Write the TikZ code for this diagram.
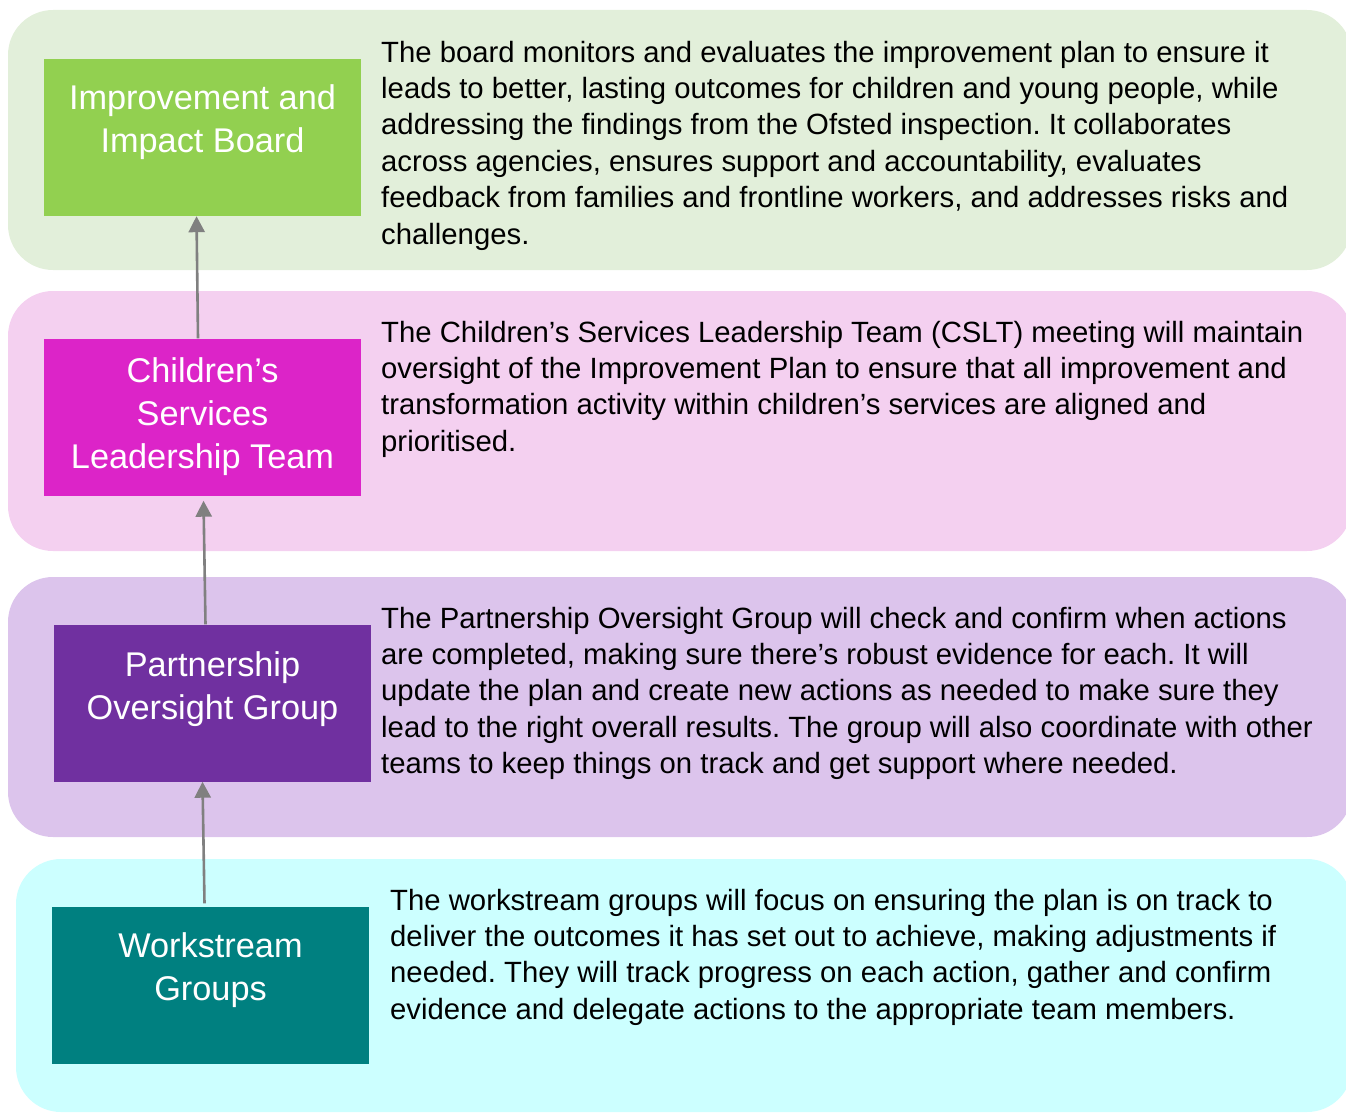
\documentclass[tikz,border=0pt]{standalone}
\usepackage{fontspec}
\setmainfont{Liberation Sans}
\usetikzlibrary{arrows.meta}
\frenchspacing

\definecolor{boardbg}{HTML}{E2EFDA}
\definecolor{boardfill}{HTML}{92D050}
\definecolor{teambg}{HTML}{F4D0F0}
\definecolor{teamfill}{HTML}{DC24C8}
\definecolor{groupbg}{HTML}{DCC4EC}
\definecolor{groupfill}{HTML}{7030A0}
\definecolor{streambg}{HTML}{CCFFFF}
\definecolor{streamfill}{HTML}{008080}

\begin{document}
\begin{tikzpicture}[x=1pt,y=-1pt,>={Triangle[length=16pt,width=16pt]},
		panel/.style={rounded corners=45pt},
		box/.style={minimum width=317pt,minimum height=157pt,inner sep=0pt},
		boxtext/.style={text=white,align=center,inner sep=0pt,anchor=base,font=\fontsize{34.3}{43}\selectfont},
		info/.style={align=left,inner sep=0pt,anchor=base west,font=\fontsize{29.3}{36.4}\selectfont},
		flow/.style={->,draw=gray,line width=2.6pt}]
		\useasboundingbox (0,0) rectangle (1346,1113);
		\clip (0,0) rectangle (1346,1113);

		\fill[panel,fill=boardbg] (8,10) rectangle (1352,270);
		\fill[panel,fill=teambg] (8,291) rectangle (1352,551);
		\fill[panel,fill=groupbg] (8,577) rectangle (1352,837);
		\fill[panel,fill=streambg] (16,859) rectangle (1352,1112);

		\node[box,fill=boardfill] (board) at (202.5,137.5) {};
		\node[box,fill=teamfill] (team) at (202.5,417) {};
		\node[box,fill=groupfill] (group) at (212.5,703) {};
		\node[box,fill=streamfill] (stream) at (210.5,985) {};

		% anchor=base sits on the last line
		\node[boxtext] (boardlabel) at ([yshift=-94pt]board.north) {Improvement and\\Impact Board};
		\node[boxtext] (teamlabel) at ([yshift=-130pt]team.north) {Children’s\\Services\\Leadership Team};
		\node[boxtext] (grouplabel) at ([yshift=-95pt]group.north) {Partnership\\Oversight Group};
		\node[boxtext] (streamlabel) at ([yshift=-94pt]stream.north) {Workstream\\Groups};

		\draw[flow] ([xshift=-4.5pt]team.north) -- ([xshift=-6pt]board.south);
		\draw[flow] ([xshift=-7pt]group.north) -- ([xshift=1pt,yshift=-5pt]team.south);
		\draw[flow] ([xshift=-6pt,yshift=3pt]stream.north) -- ([xshift=-10pt]group.south);

		\node[info] (boardinfo) at (381,244) {The board monitors and evaluates the improvement plan to ensure it\\
			leads to better, lasting outcomes for children and young people, while\\
			addressing the findings from the Ofsted inspection. It collaborates\\
			across agencies, ensures support and accountability, evaluates\\
			feedback from families and frontline workers, and addresses risks and\\
			challenges.};
		\node[info] (teaminfo) at (381,451.2) {The Children’s Services Leadership Team (CSLT) meeting will maintain\\
			oversight of the Improvement Plan to ensure that all improvement and\\
			transformation activity within children’s services are aligned and\\
			prioritised.};
		\node[info] (groupinfo) at (381,773.6) {The Partnership Oversight Group will check and confirm when actions\\
			are completed, making sure there’s robust evidence for each. It will\\
			update the plan and create new actions as needed to make sure they\\
			lead to the right overall results. The group will also coordinate with other\\
			teams to keep things on track and get support where needed.};
		\node[info] (streaminfo) at (390,1019.2) {The workstream groups will focus on ensuring the plan is on track to\\
			deliver the outcomes it has set out to achieve, making adjustments if\\
			needed. They will track progress on each action, gather and confirm\\
			evidence and delegate actions to the appropriate team members.};
\end{tikzpicture}
\end{document}
